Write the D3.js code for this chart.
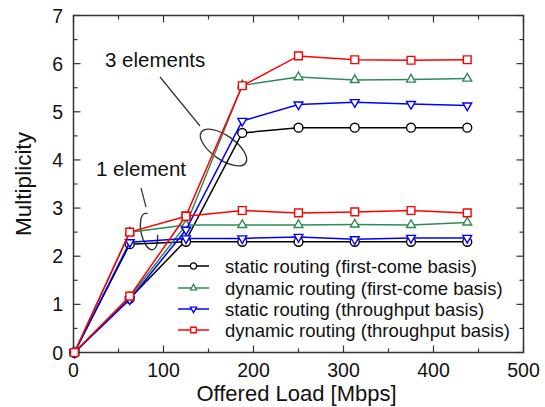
<!DOCTYPE html>
<html>
<head>
<meta charset="utf-8">
<script src="https://cdn.jsdelivr.net/npm/d3@7"></script>
<style>
  body { margin: 0; background: #fff; }
  text { font-family: "Liberation Sans", Arial, sans-serif; fill: #111; }
</style>
</head>
<body>
<script>
// offered load values (Mbps)
var loads = [1, 62.5, 125, 187.5, 250, 312.5, 375, 437.5];

// 1 element
var staticFirst1 = [0, 2.25, 2.30, 2.30, 2.30, 2.30, 2.30, 2.30];
var dynamicFirst1 = [0, 2.50, 2.65, 2.65, 2.65, 2.66, 2.65, 2.70];
var staticThru1 = [0, 2.29, 2.37, 2.37, 2.40, 2.35, 2.38, 2.38];
var dynamicThru1 = [0, 2.50, 2.83, 2.95, 2.90, 2.92, 2.95, 2.90];

// 3 elements
var staticFirst3 = [0, 1.12, 2.33, 4.56, 4.67, 4.67, 4.67, 4.67];
var dynamicFirst3 = [0, 1.15, 2.65, 5.55, 5.72, 5.66, 5.67, 5.69];
var staticThru3 = [0, 1.10, 2.55, 4.81, 5.15, 5.20, 5.16, 5.13];
var dynamicThru3 = [0, 1.17, 2.84, 5.54, 6.16, 6.08, 6.07, 6.08];

var legendLabels = ["static routing (first-come basis)",
                    "dynamic routing (first-come basis)",
                    "static routing (throughput basis)",
                    "dynamic routing (throughput basis)"];
var colors = ["#000000", "#2e8b57", "#0000ff", "#ff0000"];
var xTicks = [0, 100, 200, 300, 400, 500];
var yTicks = [0, 1, 2, 3, 4, 5, 6, 7];

var width = 545, height = 407;
var svg = d3.select("body").append("svg")
            .attr("width", width)
            .attr("height", height);

var x = d3.scaleLinear().domain([0, 500]).range([73.5, 523.5]);
var y = d3.scaleLinear().domain([0, 7]).range([352.5, 15.5]);

var frameColor = "#333";

// inward ticks on all 4 sides
var ticksG = svg.append("g").attr("stroke", frameColor).attr("stroke-width", 1.2);
d3.range(0, 501, 50).forEach(function(v) {
  var len = v % 100 === 0 ? 7 : 4;
  ticksG.append("line").attr("x1", x(v)).attr("x2", x(v)).attr("y1", y(0)).attr("y2", y(0) - len);
  ticksG.append("line").attr("x1", x(v)).attr("x2", x(v)).attr("y1", y(7)).attr("y2", y(7) + len);
});
d3.range(0, 7.01, 0.5).forEach(function(v) {
  var len = v % 1 === 0 ? 7 : 4;
  ticksG.append("line").attr("y1", y(v)).attr("y2", y(v)).attr("x1", x(0)).attr("x2", x(0) + len);
  ticksG.append("line").attr("y1", y(v)).attr("y2", y(v)).attr("x1", x(500)).attr("x2", x(500) - len);
});

// frame
svg.append("rect")
   .attr("x", x(0)).attr("y", y(7))
   .attr("width", x(500) - x(0)).attr("height", y(0) - y(7))
   .attr("fill", "none").attr("stroke", frameColor).attr("stroke-width", 1.5);

// tick labels
svg.selectAll(".xl").data(xTicks).enter().append("text")
   .attr("x", function(d) { return x(d); })
   .attr("y", 377)
   .attr("text-anchor", "middle")
   .attr("font-size", 19.5)
   .text(function(d) { return d; });

svg.selectAll(".yl").data(yTicks).enter().append("text")
   .attr("x", 63)
   .attr("y", function(d) { return y(d) + 7; })
   .attr("text-anchor", "end")
   .attr("font-size", 19.5)
   .text(function(d) { return d; });

// axis titles
svg.append("text")
   .attr("x", x(250) - 2).attr("y", 401)
   .attr("text-anchor", "middle")
   .attr("font-size", 22)
   .text("Offered Load [Mbps]");

svg.append("text")
   .attr("transform", "translate(31," + ((y(0) + y(7)) / 2) + ") rotate(-90)")
   .attr("text-anchor", "middle")
   .attr("font-size", 22.5)
   .text("Multiplicity");

// annotations
var annoColor = "#333";
svg.append("text").attr("x", 105).attr("y", 67).attr("font-size", 20.5).text("3 elements");
svg.append("line").attr("x1", 160).attr("y1", 77).attr("x2", 200).attr("y2", 126)
   .attr("stroke", annoColor).attr("stroke-width", 1.2);
svg.append("ellipse")
   .attr("transform", "translate(223.5,147.5) rotate(35)")
   .attr("rx", 27).attr("ry", 12)
   .attr("fill", "none").attr("stroke", annoColor).attr("stroke-width", 1.4);

svg.append("text").attr("x", 96).attr("y", 176).attr("font-size", 20.5).text("1 element");
svg.append("line").attr("x1", 141).attr("y1", 188).attr("x2", 146).attr("y2", 207)
   .attr("stroke", annoColor).attr("stroke-width", 1.2);
svg.append("ellipse")
   .attr("transform", "translate(149,231.5) rotate(-12)")
   .attr("rx", 8).attr("ry", 18.5)
   .attr("stroke-dasharray", "62 28")
   .attr("stroke-dashoffset", -5)
   .attr("fill", "none").attr("stroke", annoColor).attr("stroke-width", 1.4);

// series
var symbols = [
  { type: d3.symbolCircle, size: 62, rot: 0 },
  { type: d3.symbolTriangle, size: 34, rot: 0 },
  { type: d3.symbolTriangle, size: 34, rot: 180 },
  { type: d3.symbolSquare, size: 60, rot: 0 }
];
var groups = [
  [staticFirst3, staticFirst1],
  [dynamicFirst3, dynamicFirst1],
  [staticThru3, staticThru1],
  [dynamicThru3, dynamicThru1]
];

var line = d3.line()
  .x(function(d) { return x(d[0]); })
  .y(function(d) { return y(d[1]); });

groups.forEach(function(pair, i) {
  pair.forEach(function(vals) {
    var pts = loads.map(function(l, j) { return [l, vals[j]]; });
    svg.append("path")
       .attr("d", line(pts))
       .attr("fill", "none")
       .attr("stroke", colors[i])
       .attr("stroke-width", 1.5);
    svg.selectAll(null).data(pts).enter().append("path")
       .attr("d", d3.symbol().type(symbols[i].type).size(symbols[i].size))
       .attr("transform", function(d) {
         return "translate(" + x(d[0]) + "," + y(d[1]) + ") rotate(" + symbols[i].rot + ")";
       })
       .attr("fill", "#fff")
       .attr("stroke", colors[i])
       .attr("stroke-width", 1.4);
  });
});

// legend
var legendRows = [266, 288, 309, 330];
var lg = svg.append("g");
legendLabels.forEach(function(lab, i) {
  lg.append("line")
    .attr("x1", 178).attr("x2", 209)
    .attr("y1", legendRows[i]).attr("y2", legendRows[i])
    .attr("stroke", colors[i]).attr("stroke-width", 1.5);
  lg.append("path")
    .attr("d", d3.symbol().type(symbols[i].type).size(symbols[i].size * 0.5))
    .attr("transform", "translate(193.5," + legendRows[i] + ") rotate(" + symbols[i].rot + ")")
    .attr("fill", "#fff")
    .attr("stroke", colors[i])
    .attr("stroke-width", 1.3);
  lg.append("text")
    .attr("x", 225).attr("y", legendRows[i] + 6.5)
    .attr("font-size", 18.5)
    .text(lab);
});
</script>
</body>
</html>
